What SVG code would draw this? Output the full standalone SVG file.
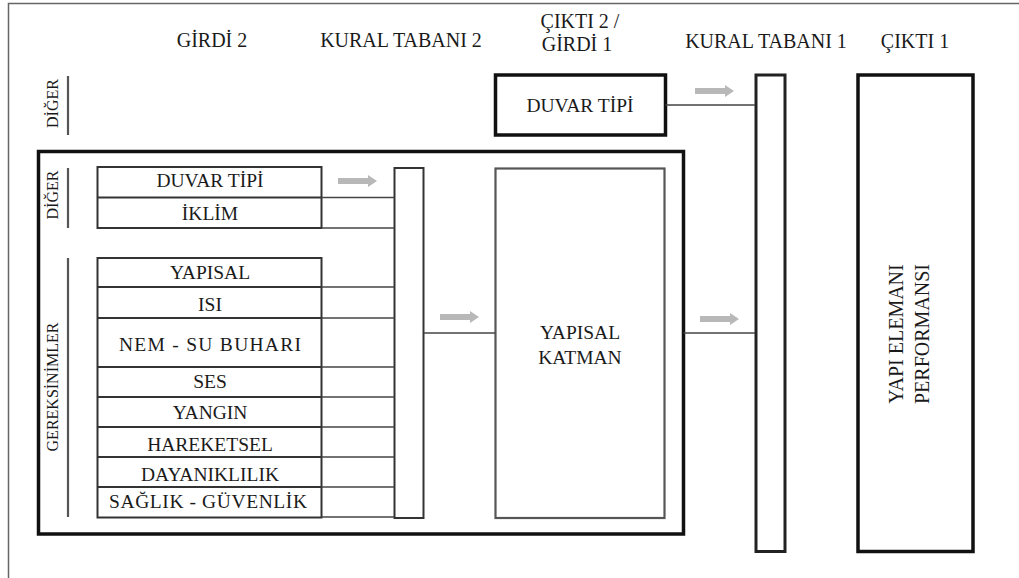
<svg xmlns="http://www.w3.org/2000/svg" width="1019" height="578" viewBox="0 0 1019 578" font-family="Liberation Serif, Times New Roman, serif">
<style>
.t{fill:#1a1a1a;text-anchor:middle}
.h{font-size:20px}
.r{font-size:19.5px}
.s{font-size:16px}
.thick{fill:none;stroke:#111;stroke-width:3.5}
.mid{fill:none;stroke:#222;stroke-width:3}
.thin{fill:none;stroke:#333;stroke-width:2}
.ln{fill:none;stroke:#444;stroke-width:1.6}
.side{fill:none;stroke:#555;stroke-width:2.2}
.arr{fill:#b8b8b8}
</style>
<defs>
<polygon id="arrow" points="0,-3 30,-3 30,-6 39,0 30,6 30,3 0,3"/>
</defs>
<rect width="1019" height="578" fill="#fff"/>
<g id="frame">
<path d="M8.5,578 V3.5 H1019" fill="none" stroke="#666" stroke-width="1.5"/>
</g>
<g id="headers">
<text class="t h" x="212" y="47">GİRDİ 2</text>
<text class="t h" x="401" y="47">KURAL TABANI 2</text>
<text class="t h" x="580" y="28">ÇIKTI 2 /</text>
<text class="t h" x="577" y="51">GİRDİ 1</text>
<text class="t h" x="766" y="48">KURAL TABANI 1</text>
<text class="t h" x="915" y="48">ÇIKTI 1</text>
</g>
<g id="diger-top">
<text class="t s" transform="translate(58,103.5) rotate(-90)">DİĞER</text>
<line class="side" x1="68" y1="76" x2="68" y2="135"/>
</g>
<g id="duvar-tipi-top">
<rect class="thick" x="495.5" y="75" width="170" height="60"/>
<text class="t r" x="580" y="112">DUVAR TİPİ</text>
</g>
<g id="big-box">
<rect class="thick" x="38.5" y="151.5" width="645" height="382.5"/>
</g>
<g id="diger-inner">
<text class="t s" transform="translate(58,195) rotate(-90)">DİĞER</text>
<line class="side" x1="68" y1="168" x2="68" y2="228"/>
</g>
<g id="gereksinimler">
<text class="t s" transform="translate(58,387) rotate(-90)">GEREKSİNİMLER</text>
<line class="side" x1="68" y1="258" x2="68" y2="517"/>
</g>
<g id="girdi-rows">
<rect class="thin" x="97.5" y="167" width="224" height="61"/>
<line class="thin" x1="97.5" y1="197.5" x2="321.5" y2="197.5"/>
<text class="t r" x="210" y="187">DUVAR TİPİ</text>
<text class="t r" x="210" y="220">İKLİM</text>
<rect class="thin" x="97.5" y="258" width="224" height="259.5"/>
<line class="thin" x1="97.5" y1="287" x2="321.5" y2="287"/>
<line class="thin" x1="97.5" y1="318" x2="321.5" y2="318"/>
<line class="thin" x1="97.5" y1="367" x2="321.5" y2="367"/>
<line class="thin" x1="97.5" y1="397" x2="321.5" y2="397"/>
<line class="thin" x1="97.5" y1="427" x2="321.5" y2="427"/>
<line class="thin" x1="97.5" y1="457" x2="321.5" y2="457"/>
<line class="thin" x1="97.5" y1="487" x2="321.5" y2="487"/>
<text class="t r" x="210" y="279">YAPISAL</text>
<text class="t r" x="210" y="311">ISI</text>
<text class="t r" x="210" y="351" textLength="182" lengthAdjust="spacing">NEM - SU BUHARI</text>
<text class="t r" x="210" y="388">SES</text>
<text class="t r" x="210" y="419">YANGIN</text>
<text class="t r" x="210" y="451">HAREKETSEL</text>
<text class="t r" x="210" y="481">DAYANIKLILIK</text>
<text class="t r" x="208" y="508" textLength="198" lengthAdjust="spacing">SAĞLIK - GÜVENLİK</text>
</g>
<g id="kural-tabani-2">
<rect class="thin" x="394.5" y="168" width="29" height="350"/>
</g>
<g id="yapisal-katman">
<rect x="495.5" y="168.5" width="169" height="349.5" fill="none" stroke="#555" stroke-width="2.2"/>
<text class="t r" x="580" y="339">YAPISAL</text>
<text class="t r" x="580" y="364">KATMAN</text>
</g>
<g id="kural-tabani-1">
<rect class="mid" x="756" y="75" width="29" height="476.5"/>
</g>
<g id="cikti-1">
<rect class="thick" x="858" y="75" width="115" height="476.5"/>
<text class="t h" transform="translate(903,334) rotate(-90)">YAPI ELEMANI</text>
<text class="t h" transform="translate(929,334) rotate(-90)">PERFORMANSI</text>
</g>
<g id="connectors">
<line class="ln" x1="665.5" y1="105" x2="755" y2="105"/>
<line class="ln" x1="683.5" y1="333" x2="755" y2="333"/>
<line class="ln" x1="423.5" y1="333" x2="495" y2="333"/>
<line class="ln" x1="321.5" y1="197.5" x2="394.5" y2="197.5"/>
<line class="ln" x1="321.5" y1="228" x2="394.5" y2="228"/>
<line class="ln" x1="321.5" y1="287" x2="394.5" y2="287"/>
<line class="ln" x1="321.5" y1="318" x2="394.5" y2="318"/>
<line class="ln" x1="321.5" y1="367" x2="394.5" y2="367"/>
<line class="ln" x1="321.5" y1="397" x2="394.5" y2="397"/>
<line class="ln" x1="321.5" y1="427" x2="394.5" y2="427"/>
<line class="ln" x1="321.5" y1="457" x2="394.5" y2="457"/>
<line class="ln" x1="321.5" y1="487" x2="394.5" y2="487"/>
<line class="ln" x1="321.5" y1="517" x2="394.5" y2="517"/>
<use href="#arrow" class="arr" x="695" y="91"/>
<use href="#arrow" class="arr" x="338" y="181"/>
<use href="#arrow" class="arr" x="440" y="317"/>
<use href="#arrow" class="arr" x="700" y="319"/>
</g>
</svg>
